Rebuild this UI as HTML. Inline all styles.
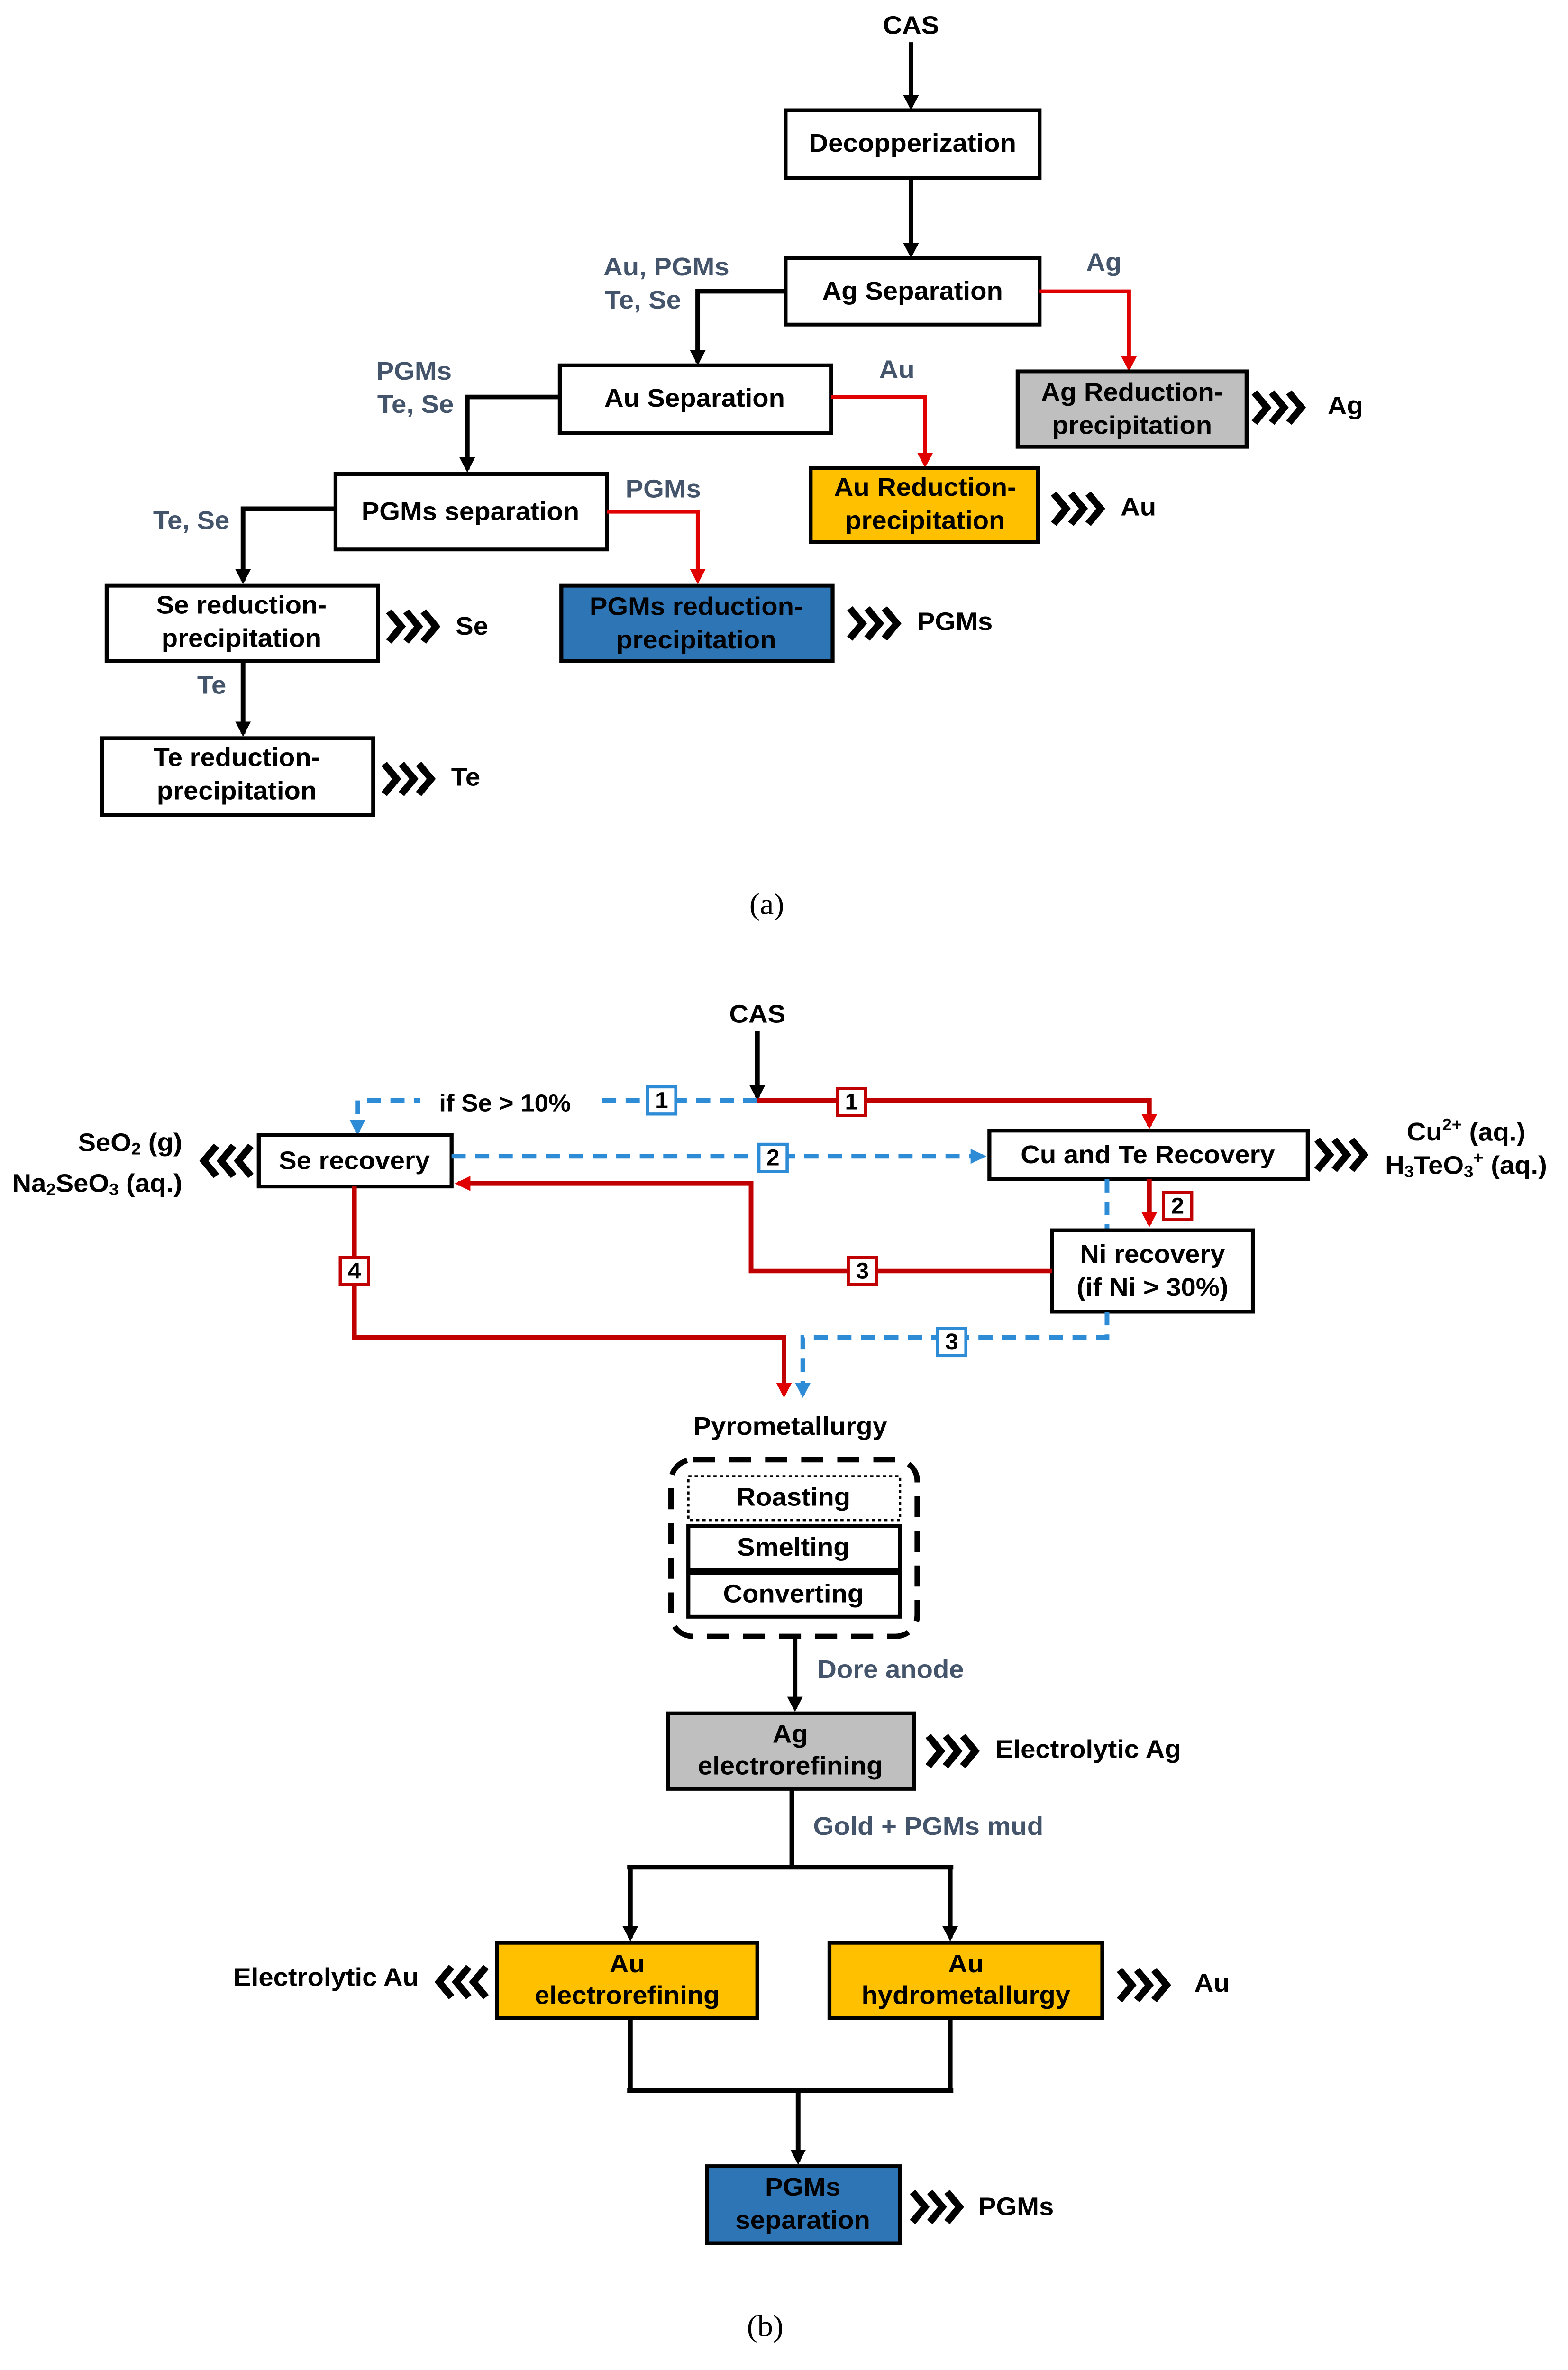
<!DOCTYPE html>
<html><head><meta charset="utf-8"><meta name="viewport" content="width=3308"><style>
html,body{margin:0;padding:0;background:#fff;width:100vw;height:100vh;overflow:hidden;}
svg{display:block;position:fixed;left:0;top:0;width:100vw;height:100vh;}
text{font-family:"Liberation Sans",Arial,sans-serif;font-weight:bold;font-size:17px;text-anchor:middle;dominant-baseline:middle;fill:#000;}
.l{fill:#44546a;}
.b{fill:#fff;stroke:#000;stroke-width:2.5;}
.k{stroke:#000;stroke-width:3;fill:none;}
.r{stroke:#c00000;stroke-width:3;fill:none;}
.bl{stroke:#2e8bd6;stroke-width:3;fill:none;stroke-dasharray:9 6;}
.ch{stroke:#000;stroke-width:4.5;fill:none;stroke-linejoin:miter;}
</style></head><body>
<svg viewBox="0 0 1000 1570" preserveAspectRatio="none" xmlns="http://www.w3.org/2000/svg">
<defs>
<marker id="ak" markerWidth="10" markerHeight="10" refX="8" refY="5" orient="auto" markerUnits="userSpaceOnUse"><path d="M0,0 L10,5 L0,10 z" fill="#000"/></marker>
<marker id="ar" markerWidth="10" markerHeight="10" refX="8" refY="5" orient="auto" markerUnits="userSpaceOnUse"><path d="M0,0 L10,5 L0,10 z" fill="#e00000"/></marker>
<marker id="ab" markerWidth="10" markerHeight="10" refX="8" refY="5" orient="auto" markerUnits="userSpaceOnUse"><path d="M0,0 L10,5 L0,10 z" fill="#2e8bd6"/></marker>
<g id="chr"><polyline class="ch" points="0,-10 8,0 0,10"/><polyline class="ch" points="11,-10 19,0 11,10"/><polyline class="ch" points="22,-10 30,0 22,10"/></g>
<g id="chl"><polyline class="ch" points="30,-10 22,0 30,10"/><polyline class="ch" points="19,-10 11,0 19,10"/><polyline class="ch" points="8,-10 0,0 8,10"/></g>
</defs>

<!-- (a) -->
<text x="581" y="18">CAS</text>
<line class="k" x1="581" y1="28" x2="581" y2="71" marker-end="url(#ak)"/>
<rect class="b" x="501" y="73" width="162" height="45"/><text x="582" y="96">Decopperization</text>
<line class="k" x1="581" y1="118" x2="581" y2="169" marker-end="url(#ak)"/>
<rect class="b" x="501" y="171" width="162" height="44"/><text x="582" y="194">Ag Separation</text>
<polyline class="k" points="501,193 445,193 445,240" marker-end="url(#ak)"/>
<text class="l" x="425" y="178">Au, PGMs</text><text class="l" x="410" y="200">Te, Se</text>
<polyline style="stroke:#e00000;stroke-width:2.5;fill:none" points="663,193 720,193 720,244" marker-end="url(#ar)"/>
<text class="l" x="704" y="175">Ag</text>
<rect class="b" x="649" y="246" width="146" height="50" style="fill:#bfbfbf"/><text x="722" y="261">Ag Reduction-</text><text x="722" y="283">precipitation</text>
<use href="#chr" x="800" y="270"/><text x="858" y="270">Ag</text>

<rect class="b" x="357" y="242" width="173" height="45"/><text x="443" y="265">Au Separation</text>
<polyline class="k" points="357,263 298,263 298,311" marker-end="url(#ak)"/>
<text class="l" x="264" y="247">PGMs</text><text class="l" x="265" y="269">Te, Se</text>
<polyline style="stroke:#e00000;stroke-width:2.5;fill:none" points="530,263 590,263 590,308" marker-end="url(#ar)"/>
<text class="l" x="572" y="246">Au</text>
<rect class="b" x="517" y="310" width="145" height="49" style="fill:#ffc000"/><text x="590" y="324">Au Reduction-</text><text x="590" y="346">precipitation</text>
<use href="#chr" x="672" y="337"/><text x="726" y="337">Au</text>

<rect class="b" x="214" y="314" width="173" height="50"/><text x="300" y="340">PGMs separation</text>
<polyline class="k" points="214,337 155,337 155,385" marker-end="url(#ak)"/>
<text class="l" x="122" y="346">Te, Se</text>
<polyline style="stroke:#e00000;stroke-width:2.5;fill:none" points="387,339 445,339 445,385" marker-end="url(#ar)"/>
<text class="l" x="423" y="325">PGMs</text>
<rect class="b" x="358" y="388" width="173" height="50" style="fill:#2e75b6"/><text x="444" y="403">PGMs reduction-</text><text x="444" y="425">precipitation</text>
<use href="#chr" x="542" y="413"/><text x="609" y="413">PGMs</text>

<rect class="b" x="68" y="388" width="173" height="50"/><text x="154" y="402">Se reduction-</text><text x="154" y="424">precipitation</text>
<use href="#chr" x="248" y="415"/><text x="301" y="416">Se</text>
<line class="k" x1="155" y1="438" x2="155" y2="486" marker-end="url(#ak)"/><text class="l" x="135" y="455">Te</text>
<rect class="b" x="65" y="489" width="173" height="51"/><text x="151" y="503">Te reduction-</text><text x="151" y="525">precipitation</text>
<use href="#chr" x="245" y="516"/><text x="297" y="516">Te</text>
<text x="489" y="601" style="font-weight:normal;font-family:'Liberation Serif',serif;font-size:20px">(a)</text>

<!-- (b) -->
<text x="483" y="673">CAS</text>
<line class="k" x1="483" y1="683" x2="483" y2="727" marker-end="url(#ak)"/>
<polyline class="bl" points="483,729 228,729 228,750" marker-end="url(#ab)"/>
<rect x="268" y="721" width="112" height="20" fill="#fff"/>
<text x="322" y="732" style="font-size:16px">if Se &gt; 10%</text>
<polyline class="r" points="483,729 733,729 733,746" marker-end="url(#ar)"/>
<rect x="413" y="720" width="18" height="18" fill="#fff" stroke="#2e8bd6" stroke-width="2"/><text x="422" y="730" style="font-size:15px">1</text>
<rect x="534" y="721" width="18" height="18" fill="#fff" stroke="#c00000" stroke-width="2"/><text x="543" y="731" style="font-size:15px">1</text>

<rect class="b" x="165" y="752" width="123" height="34"/><text x="226" y="770">Se recovery</text>
<use href="#chl" x="130" y="769"/>
<text x="83" y="758">SeO<tspan dy="4" style="font-size:11px">2</tspan><tspan dy="-4"> (g)</tspan></text>
<text x="62" y="785">Na<tspan dy="4" style="font-size:11px">2</tspan><tspan dy="-4">SeO</tspan><tspan dy="4" style="font-size:11px">3</tspan><tspan dy="-4"> (aq.)</tspan></text>

<rect class="b" x="631" y="749" width="203" height="32"/><text x="732" y="766">Cu and Te Recovery</text>
<use href="#chr" x="840" y="765"/>
<text x="935" y="751">Cu<tspan dy="-5" style="font-size:11px">2+</tspan><tspan dy="5"> (aq.)</tspan></text>
<text x="935" y="773">H<tspan dy="4" style="font-size:11px">3</tspan><tspan dy="-4">TeO</tspan><tspan dy="4" style="font-size:11px">3</tspan><tspan dy="-9" style="font-size:11px">+</tspan><tspan dy="5"> (aq.)</tspan></text>

<line class="bl" x1="288" y1="766" x2="627" y2="766" marker-end="url(#ab)"/>
<rect x="484" y="758" width="18" height="18" fill="#fff" stroke="#2e8bd6" stroke-width="2"/><text x="493" y="768" style="font-size:15px">2</text>
<line class="bl" x1="706" y1="781" x2="706" y2="815"/>
<line class="r" x1="733" y1="781" x2="733" y2="811" marker-end="url(#ar)"/>
<rect x="742" y="790" width="18" height="18" fill="#fff" stroke="#c00000" stroke-width="2"/><text x="751" y="800" style="font-size:15px">2</text>

<rect class="b" x="671" y="815" width="128" height="54"/><text x="735" y="832">Ni recovery</text><text x="735" y="854">(if Ni &gt; 30%)</text>
<polyline class="r" points="671,842 479,842 479,784 292,784" marker-end="url(#ar)"/>
<rect x="541" y="833" width="18" height="18" fill="#fff" stroke="#c00000" stroke-width="2"/><text x="550" y="843" style="font-size:15px">3</text>
<polyline class="r" points="226,786 226,886 500,886 500,924" marker-end="url(#ar)"/>
<rect x="217" y="833" width="18" height="18" fill="#fff" stroke="#c00000" stroke-width="2"/><text x="226" y="843" style="font-size:15px">4</text>
<polyline class="bl" points="706,869 706,886 512,886 512,924" marker-end="url(#ab)"/>
<rect x="598" y="880" width="18" height="18" fill="#fff" stroke="#2e8bd6" stroke-width="2"/><text x="607" y="890" style="font-size:15px">3</text>

<text x="504" y="946">Pyrometallurgy</text>
<rect x="428" y="967" width="157" height="117" rx="14" fill="none" stroke="#000" stroke-width="3.5" stroke-dasharray="14 9"/>
<rect x="439" y="978" width="135" height="29" fill="#fff" stroke="#000" stroke-width="1.5" stroke-dasharray="2 2"/><text x="506" y="993">Roasting</text>
<rect class="b" x="439" y="1011" width="135" height="29"/><text x="506" y="1026">Smelting</text>
<rect class="b" x="439" y="1042" width="135" height="29"/><text x="506" y="1057">Converting</text>

<line class="k" x1="507" y1="1084" x2="507" y2="1132" marker-end="url(#ak)"/>
<text class="l" x="568" y="1107">Dore anode</text>
<rect class="b" x="426" y="1135" width="157" height="50" style="fill:#bfbfbf"/><text x="504" y="1150">Ag</text><text x="504" y="1171">electrorefining</text>
<use href="#chr" x="592" y="1160"/><text x="694" y="1160">Electrolytic Ag</text>

<line class="k" x1="505" y1="1185" x2="505" y2="1237"/>
<text class="l" x="592" y="1211">Gold + PGMs mud</text>
<line class="k" x1="400" y1="1237" x2="608" y2="1237"/>
<line class="k" x1="402" y1="1237" x2="402" y2="1284" marker-end="url(#ak)"/>
<line class="k" x1="606" y1="1237" x2="606" y2="1284" marker-end="url(#ak)"/>

<rect class="b" x="317" y="1287" width="166" height="50" style="fill:#ffc000"/><text x="400" y="1302">Au</text><text x="400" y="1323">electrorefining</text>
<use href="#chl" x="280" y="1313"/><text x="208" y="1311">Electrolytic Au</text>
<rect class="b" x="529" y="1287" width="174" height="50" style="fill:#ffc000"/><text x="616" y="1302">Au</text><text x="616" y="1323">hydrometallurgy</text>
<use href="#chr" x="714" y="1315"/><text x="773" y="1315">Au</text>

<line class="k" x1="402" y1="1337" x2="402" y2="1385"/>
<line class="k" x1="606" y1="1337" x2="606" y2="1385"/>
<line class="k" x1="400" y1="1385" x2="608" y2="1385"/>
<line class="k" x1="509" y1="1385" x2="509" y2="1432" marker-end="url(#ak)"/>
<rect class="b" x="451" y="1435" width="123" height="51" style="fill:#2e75b6"/><text x="512" y="1450">PGMs</text><text x="512" y="1472">separation</text>
<use href="#chr" x="582" y="1462"/><text x="648" y="1463">PGMs</text>
<text x="488" y="1543" style="font-weight:normal;font-family:'Liberation Serif',serif;font-size:20px">(b)</text>
</svg>
</body></html>
